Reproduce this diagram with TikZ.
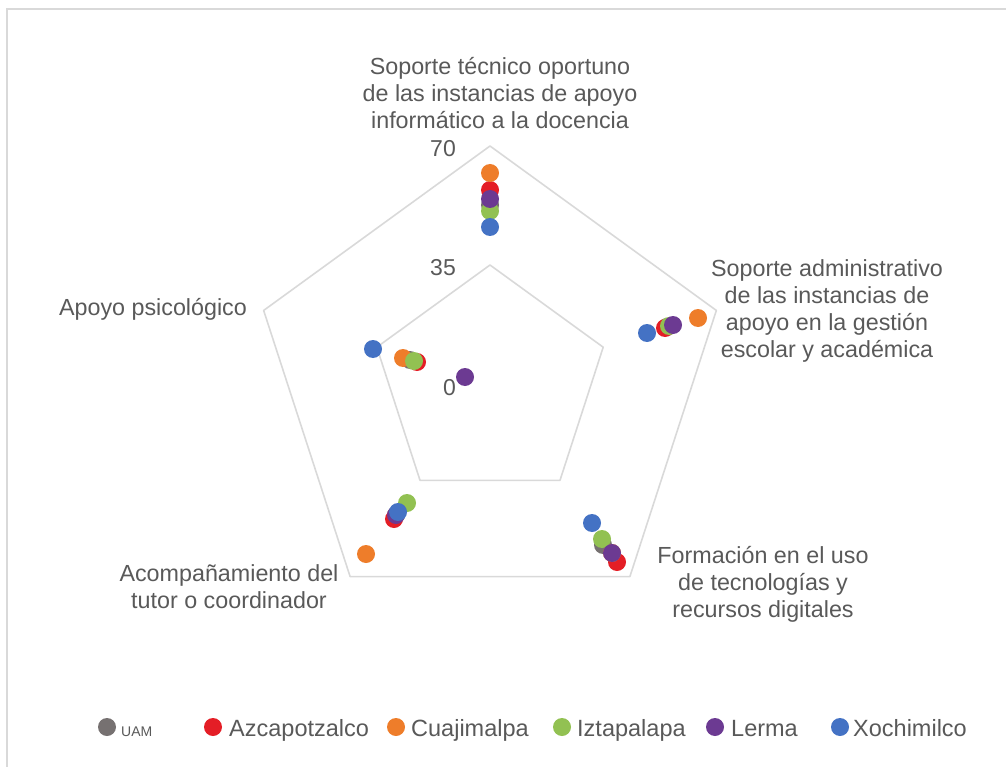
\documentclass[tikz,border=0pt]{standalone}
\usepackage{fontspec}
\setmainfont{Liberation Sans}
\definecolor{txt}{HTML}{595959}
\definecolor{grid}{HTML}{D9D9D9}
\definecolor{cUAM}{HTML}{767171}
\definecolor{cAzc}{HTML}{E41E26}
\definecolor{cCua}{HTML}{EE7D2A}
\definecolor{cIzt}{HTML}{92C152}
\definecolor{cLer}{HTML}{6C3A92}
\definecolor{cXoc}{HTML}{4472C4}
\tikzset{
  lbl/.style={text=txt, font=\fontsize{23.3}{27}\selectfont, align=center, inner sep=0pt},
  num/.style={text=txt, font=\fontsize{23}{27}\selectfont, inner sep=0pt},
  leg/.style={text=txt, font=\fontsize{23.5}{27}\selectfont, inner sep=0pt, anchor=base west},
  mk/.style={circle, fill=#1, minimum size=18pt, inner sep=0pt},
  gridline/.style={draw=grid, line width=1.6pt, line join=round},
}
\begin{document}
\begin{tikzpicture}[x=1pt, y=-1pt]
\useasboundingbox (0,0) rectangle (1006,767);
% frame
\draw[grid, line width=1.5pt] (7,767) -- (7,9) -- (1006,9);
% grid pentagons
\draw[gridline] (490,146) -- (716.35,310.45) -- (629.9,576.55) -- (350.1,576.55) -- (263.65,310.45) -- cycle;
\draw[gridline] (490,265) -- (603.2,347.2) -- (560,480.3) -- (420,480.3) -- (376.8,347.2) -- cycle;
% axis numbers
\node[num, anchor=east] (n70) at (456,149) {70};
\node[num, anchor=east] (n35) at (456,268) {35};
\node[num, anchor=east] (n0) at (456,388) {0};
% category labels
\node[lbl] (ax1) at (500,93) {Soporte técnico oportuno\\de las instancias de apoyo\\informático a la docencia};
\node[lbl] (ax2) at (827,311) {Soporte administrativo\\de las instancias de\\apoyo en la gestión\\escolar y académica};
\node[lbl] (ax3) at (763,584) {Formación en el uso\\de tecnologías y\\recursos digitales};
\node[lbl] (ax4) at (229,587) {Acompañamiento del\\tutor o coordinador};
\node[lbl] (ax5) at (153,309) {Apoyo psicológico};
% UAM
\node[mk=cUAM] (u1) at (490,205) {};
\node[mk=cUAM] (u2) at (667,327) {};
\node[mk=cUAM] (u3) at (603,545) {};
\node[mk=cUAM] (u4) at (396,515) {};
\node[mk=cUAM] (u5) at (410,360) {};
% Azcapotzalco
\node[mk=cAzc] (a1) at (490,190) {};
\node[mk=cAzc] (a2) at (665,328) {};
\node[mk=cAzc] (a3) at (617,562) {};
\node[mk=cAzc] (a4) at (394,519) {};
\node[mk=cAzc] (a5) at (417,362) {};
% Cuajimalpa
\node[mk=cCua] (c1) at (490,173) {};
\node[mk=cCua] (c2) at (698,318) {};
\node[mk=cCua] (c3) at (612,553) {};
\node[mk=cCua] (c4) at (366,554) {};
\node[mk=cCua] (c5) at (403,358) {};
% Iztapalapa
\node[mk=cIzt] (i1) at (490,211) {};
\node[mk=cIzt] (i2) at (669,326) {};
\node[mk=cIzt] (i3) at (602,539) {};
\node[mk=cIzt] (i4) at (407,503) {};
\node[mk=cIzt] (i5) at (414,361) {};
% Lerma
\node[mk=cLer] (l1) at (490,199) {};
\node[mk=cLer] (l2) at (673,325) {};
\node[mk=cLer] (l3) at (612,553) {};
\node[mk=cLer] (l4) at (396,515) {};
\node[mk=cLer] (l5) at (465,377) {};
% Xochimilco
\node[mk=cXoc] (x1) at (490,227) {};
\node[mk=cXoc] (x2) at (647,333) {};
\node[mk=cXoc] (x3) at (592,523) {};
\node[mk=cXoc] (x4) at (398,512) {};
\node[mk=cXoc] (x5) at (373,349) {};
% legend
\node[mk=cUAM] (g1) at (107,727) {};
\node[leg, font=\fontsize{14}{16}\selectfont] (t1) at (121,736) {UAM};
\node[mk=cAzc] (g2) at (213,727) {};
\node[leg] (t2) at (229,736) {Azcapotzalco};
\node[mk=cCua] (g3) at (396,727) {};
\node[leg] (t3) at (411,736) {Cuajimalpa};
\node[mk=cIzt] (g4) at (562,727) {};
\node[leg] (t4) at (577,736) {Iztapalapa};
\node[mk=cLer] (g5) at (715,727) {};
\node[leg] (t5) at (731,736) {Lerma};
\node[mk=cXoc] (g6) at (840,727) {};
\node[leg] (t6) at (853,736) {Xochimilco};
\end{tikzpicture}
\end{document}
